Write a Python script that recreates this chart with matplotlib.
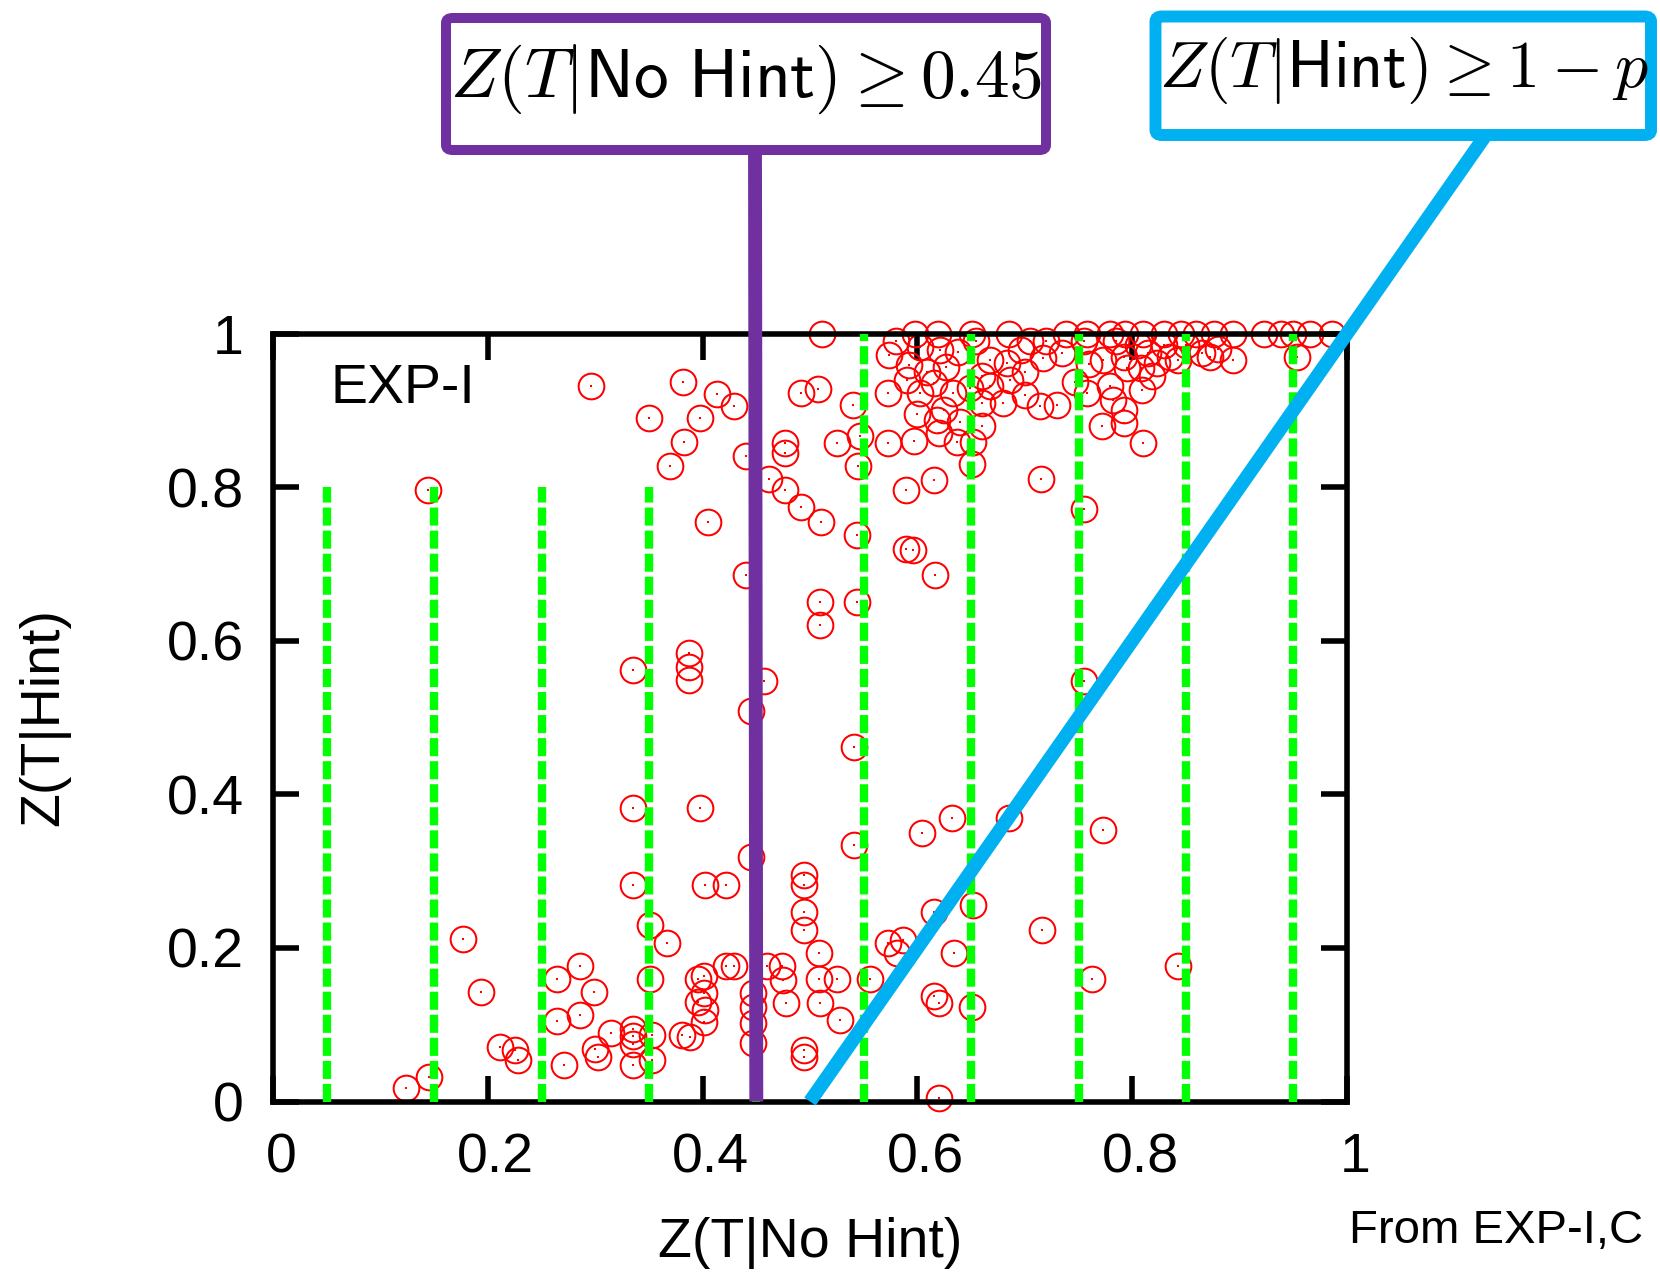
import matplotlib
matplotlib.use("Agg")
import matplotlib.pyplot as plt
from matplotlib.patches import FancyBboxPatch
from matplotlib.transforms import ScaledTranslation

# ---- data: one circle per test case, Z(T|No Hint) vs Z(T|Hint) ----
z_no_hint = [
    # upper left
    0.296, 0.144, 0.350, 0.382, 0.413, 0.429, 0.398, 0.383, 0.370, 0.405, 0.440,
    0.440, 0.477, 0.477, 0.462, 0.477, 0.492, 0.510, 0.492, 0.507, 0.511, 0.544,
    # middle band
    0.335, 0.387, 0.387, 0.387, 0.457, 0.445, 0.509, 0.509, 0.544, 0.541, 0.541,
    0.589, 0.596, 0.616, 0.755, 0.715, 0.755, 0.615, 0.589, 0.398, 0.335, 0.604,
    0.632, 0.685, 0.773, 0.445,
    # lower band
    0.124, 0.145, 0.177, 0.194, 0.211, 0.225, 0.228, 0.264, 0.286, 0.299, 0.264,
    0.286, 0.271, 0.300, 0.303, 0.315, 0.335, 0.335, 0.335, 0.335, 0.353, 0.353,
    0.335, 0.351, 0.367, 0.351, 0.381, 0.396, 0.396, 0.402, 0.422, 0.494, 0.494,
    0.494, 0.494, 0.508, 0.508, 0.525, 0.509, 0.528, 0.494, 0.494, 0.401, 0.422,
    0.429, 0.401, 0.402, 0.401, 0.388, 0.447, 0.447, 0.447, 0.447, 0.460, 0.475,
    0.478, 0.474, 0.556, 0.573, 0.587, 0.581, 0.615, 0.652, 0.634, 0.615, 0.620,
    0.651, 0.620, 0.716, 0.843, 0.763,
    # saturated at Z(T|Hint) = 1
    0.598, 0.619, 0.651, 0.685, 0.738, 0.758, 0.779, 0.793, 0.810, 0.830, 0.845,
    0.859, 0.876, 0.894, 0.923, 0.939, 0.950, 0.966, 0.986,
    # dense upper-right cluster
    0.574, 0.573, 0.540, 0.525, 0.547, 0.573, 0.597, 0.545, 0.651, 0.637, 0.652,
    0.668, 0.717, 0.714, 0.730, 0.747, 0.649, 0.668, 0.686, 0.618, 0.602, 0.633,
    0.609, 0.627, 0.638, 0.592, 0.696, 0.621, 0.602, 0.683, 0.773, 0.792, 0.809,
    0.779, 0.758, 0.772, 0.792, 0.810, 0.792, 0.782, 0.823, 0.835, 0.843, 0.872,
    0.894, 0.953, 0.805, 0.815, 0.808, 0.818, 0.660, 0.700, 0.655, 0.705, 0.720,
    0.735, 0.615, 0.580, 0.590, 0.625, 0.660, 0.680, 0.760, 0.755, 0.620, 0.600,
    0.640, 0.700, 0.660, 0.785, 0.795, 0.850, 0.865, 0.830, 0.880,
]
z_hint = [
    # upper left
    0.931, 0.796, 0.890, 0.937, 0.921, 0.906, 0.890, 0.859, 0.827, 0.754, 0.841,
    0.686, 0.857, 0.845, 0.811, 0.796, 0.774, 0.754, 0.922, 0.928, 1.000, 0.738,
    # middle band
    0.562, 0.584, 0.566, 0.549, 0.547, 0.508, 0.651, 0.620, 0.651, 0.462, 0.334,
    0.720, 0.718, 0.686, 0.547, 0.811, 0.772, 0.809, 0.796, 0.382, 0.382, 0.349,
    0.369, 0.369, 0.353, 0.319,
    # lower band
    0.017, 0.032, 0.212, 0.142, 0.071, 0.067, 0.054, 0.160, 0.176, 0.142, 0.105,
    0.112, 0.048, 0.069, 0.058, 0.089, 0.095, 0.085, 0.075, 0.048, 0.087, 0.054,
    0.282, 0.230, 0.207, 0.160, 0.087, 0.160, 0.130, 0.282, 0.282, 0.295, 0.282,
    0.247, 0.223, 0.193, 0.160, 0.160, 0.128, 0.106, 0.067, 0.058, 0.163, 0.176,
    0.176, 0.141, 0.119, 0.104, 0.084, 0.141, 0.123, 0.102, 0.076, 0.176, 0.158,
    0.128, 0.176, 0.160, 0.206, 0.210, 0.193, 0.247, 0.256, 0.193, 0.137, 0.128,
    0.123, 0.004, 0.223, 0.176, 0.159,
    # saturated at Z(T|Hint) = 1
    1.000, 1.000, 1.000, 1.000, 1.000, 1.000, 1.000, 1.000, 1.000, 1.000, 1.000,
    1.000, 1.000, 1.000, 1.000, 1.000, 1.000, 1.000, 1.000,
    # dense upper-right cluster
    0.972, 0.922, 0.907, 0.857, 0.866, 0.858, 0.860, 0.827, 0.830, 0.859, 0.859,
    0.966, 0.968, 0.905, 0.907, 0.937, 0.929, 0.931, 0.939, 0.887, 0.922, 0.922,
    0.950, 0.957, 0.976, 0.959, 0.979, 0.979, 0.983, 0.961, 0.966, 0.970, 0.926,
    0.931, 0.922, 0.879, 0.883, 0.857, 0.900, 0.913, 0.961, 0.970, 0.966, 0.970,
    0.966, 0.970, 0.985, 0.975, 0.955, 0.945, 0.945, 0.950, 0.990, 0.990, 0.990,
    0.975, 0.935, 0.990, 0.940, 0.900, 0.910, 0.910, 0.960, 0.990, 0.870, 0.895,
    0.885, 0.920, 0.880, 0.990, 0.955, 0.985, 0.975, 0.985, 0.980,
]

tick_values = [0, 0.2, 0.4, 0.6, 0.8, 1]
tick_labels = ["0", "0.2", "0.4", "0.6", "0.8", "1"]

# dashed guide lines: position and height
guide_x = [0.05, 0.15, 0.25, 0.35, 0.45, 0.55, 0.65, 0.75, 0.85, 0.95]
guide_top = [0.8, 0.8, 0.8, 0.8, 0.8, 1.0, 1.0, 1.0, 1.0, 1.0]

no_hint_cut = 0.45               # Z(T|No Hint) >= 0.45
hint_x0, hint_slope = 0.5, 2.0   # Z(T|Hint) >= 1 - p boundary

# ---- styling ----
plt.rcParams["font.family"] = ["Liberation Sans", "DejaVu Sans"]
plt.rcParams["mathtext.fontset"] = "cm"
plt.rcParams["lines.scale_dashes"] = False

PURPLE = "#7030A0"
CYAN = "#00B0F0"
GREEN = "#00FF00"

W, H = 1660, 1272
fig = plt.figure(figsize=(W / 100, H / 100), dpi=100)
ax = fig.add_axes([273 / W, 1 - 1101.5 / H, (1347 - 273) / W, (1101.5 - 333.5) / H])
ax.set_xlim(0, 1)
ax.set_ylim(0, 1)

for gx, gt in zip(guide_x, guide_top):
    ax.plot([gx, gx], [0, gt], color=GREEN, lw=6, dashes=(13, 3.6),
            solid_capstyle="butt", dash_capstyle="butt", zorder=3)

ax.plot(z_no_hint, z_hint, ls="none", marker="o", ms=18.5, mfc="none",
        mec="red", mew=1.45, clip_on=False, zorder=2)
ax.plot(z_no_hint, z_hint, ls="none", marker="s", ms=1.7, mfc="red",
        mec="red", mew=0, clip_on=False, zorder=2)

for s in ax.spines.values():
    s.set_linewidth(4)
    s.set_zorder(2.6)

ax.set_xticks(tick_values)
ax.set_xticklabels(tick_labels)
ax.set_yticks(tick_values)
ax.set_yticklabels(tick_labels)
ax.tick_params(direction="in", length=19, width=4, top=True, right=True,
               labelsize=40)
ax.tick_params(axis="x", pad=22)
ax.tick_params(axis="y", pad=21)
shift = ScaledTranslation(8 / 100, 0, fig.dpi_scale_trans)
for lab in ax.get_xticklabels():
    lab.set_transform(lab.get_transform() + shift)

ax.set_xlabel("Z(T|No Hint)", fontsize=40, va="top")
ax.xaxis.set_label_coords(0.5, -0.150)
ax.set_ylabel("Z(T|Hint)", fontsize=40)
ax.yaxis.set_label_coords(-0.189, 0.5)

ax.text(0.054, 0.909, "EXP-I", fontsize=40, va="baseline", ha="left")
fig.text(1349 / W, 1 - 1243 / H, "From EXP-I,C", fontsize=34,
         ha="left", va="baseline")

# ---- callout boxes ----
purple_box = (446 / W, 1 - 150 / H, 600 / W, 132 / H)
cyan_box = (1155.5 / W, 1 - 135 / H, 495.5 / W, 118.5 / H)

for (bx, by, bw, bh), col, lw in ((purple_box, PURPLE, 7.2), (cyan_box, CYAN, 8.6)):
    fig.add_artist(FancyBboxPatch((bx, by), bw, bh,
                                  boxstyle="round,pad=0,rounding_size=0.004",
                                  transform=fig.transFigure, fc="white",
                                  ec=col, lw=lw, zorder=6))

fig.text(purple_box[0] + purple_box[2] / 2, purple_box[1] + purple_box[3] / 2 + 0.004,
         r"$Z(T|\mathsf{No\ Hint})\geq\mathsf{0.45}$", fontsize=50,
         ha="center", va="center", zorder=7)
fig.text(cyan_box[0] + cyan_box[2] / 2, cyan_box[1] + cyan_box[3] / 2 + 0.004,
         r"$Z(T|\mathsf{Hint})\geq 1-p$", fontsize=47.5,
         ha="center", va="center", zorder=7)


def fig_to_data(fx, fy):
    """Figure-fraction point expressed in data coordinates of ax."""
    return ax.transData.inverted().transform(fig.transFigure.transform((fx, fy)))


# leader from the purple box down to the 0.45 cut on the x axis
px_top, py_top = fig_to_data(755 / W, purple_box[1])
ax.plot([px_top, no_hint_cut], [py_top, 0], color=PURPLE, lw=10,
        solid_capstyle="butt", clip_on=False, zorder=5)

# leader along Z(T|Hint) = 1 - p from the x axis up to the cyan box
_, cy_top = fig_to_data(0, cyan_box[1])
cx_top = hint_x0 + cy_top / hint_slope
ax.plot([hint_x0, cx_top], [0, cy_top], color=CYAN, lw=10,
        solid_capstyle="butt", clip_on=False, zorder=5)

fig.savefig("out.png", dpi=100, facecolor="white")
